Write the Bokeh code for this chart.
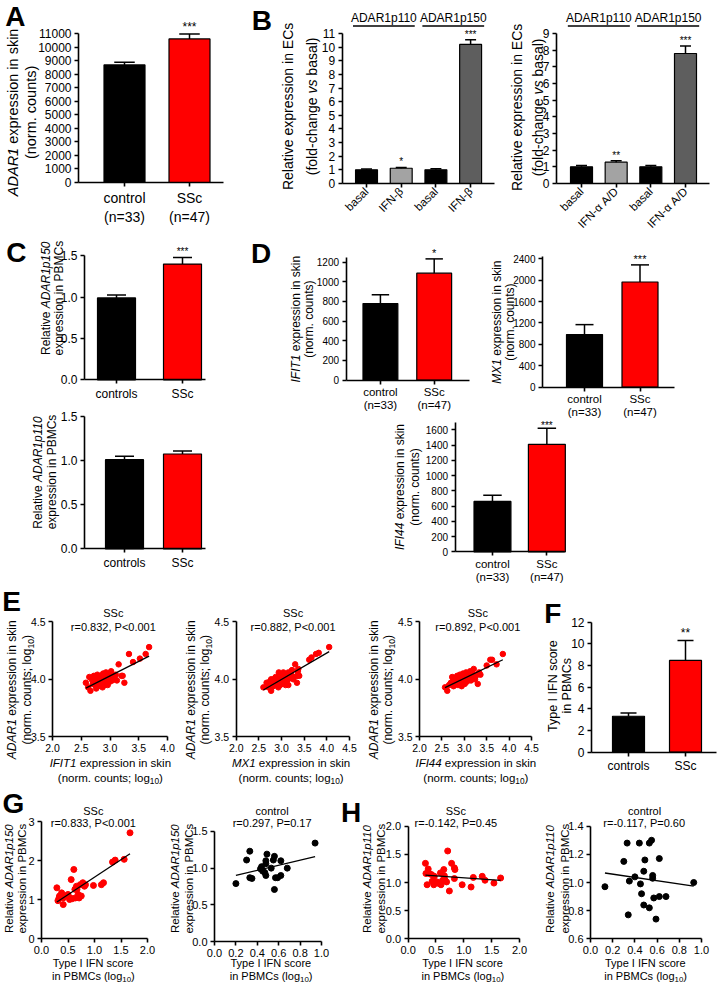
import math
import numpy as np
from bokeh.plotting import figure
from bokeh.models import Range1d, FixedTicker, PrintfTickFormatter, Label
from bokeh.layouts import row, column
from bokeh.embed import file_html
from bokeh.resources import INLINE

# ---------------- data ----------------
a_groups = ["control\n(n=33)", "SSc\n(n=47)"]
a_mean = [8680, 10600]
a_sem = [190, 370]
a_sig = ["", "***"]
a_colors = ["#000000", "#ff0000"]

b_headers = ["ADAR1p110", "ADAR1p150"]
b_colors = ["#000000", "#a3a3a3", "#000000", "#5e5e5e"]
b1_groups = ["basal", "IFN-β", "basal", "IFN-β"]
b1_mean = [1.0, 1.12, 1.0, 10.2]
b1_sem = [0.06, 0.06, 0.08, 0.35]
b1_sig = ["", "*", "", "***"]
b2_groups = ["basal", "IFN-α A/D", "basal", "IFN-α A/D"]
b2_mean = [1.0, 1.28, 1.0, 7.8]
b2_sem = [0.08, 0.09, 0.08, 0.45]
b2_sig = ["", "**", "", "***"]

c_groups = ["controls", "SSc"]
c_colors = ["#000000", "#ff0000"]
c150_mean = [0.99, 1.40]
c150_sem = [0.035, 0.08]
c150_sig = ["", "***"]
c110_mean = [1.01, 1.075]
c110_sem = [0.04, 0.035]
c110_sig = ["", ""]

d_groups = ["control\n(n=33)", "SSc\n(n=47)"]
ifit1_mean = [778, 1088]
ifit1_sem = [90, 145]
ifit1_sig = ["", "*"]
mx1_mean = [983, 1965]
mx1_sem = [185, 320]
mx1_sig = ["", "***"]
ifi44_mean = [662, 1412]
ifi44_sem = [80, 210]
ifi44_sig = ["", "***"]

f_groups = ["controls", "SSc"]
f_mean = [3.32, 8.47]
f_sem = [0.30, 1.85]
f_sig = ["", "**"]

e1_x = [2.58, 2.62, 2.66, 2.64, 2.68, 2.70, 2.72, 2.74, 2.75, 2.77, 2.78, 2.80, 2.80, 2.82, 2.83, 2.85,
        2.86, 2.87, 2.88, 2.90, 2.90, 2.91, 2.92, 2.93, 2.94, 2.95, 2.96, 2.97, 2.98, 3.00, 3.00, 3.02,
        3.04, 3.05, 3.08, 3.10, 3.12, 3.15, 3.20, 3.22, 3.25, 3.33, 3.40, 3.52, 3.62, 3.68, 2.76]
e1_y = [3.97, 3.93, 3.90, 4.02, 4.00, 3.96, 4.03, 3.95, 4.00, 3.98, 4.04, 3.94, 4.01, 3.97, 4.03, 3.96,
        4.00, 3.93, 4.05, 3.98, 4.02, 3.95, 4.00, 4.06, 3.97, 4.03, 3.95, 4.00, 4.05, 3.98, 4.02, 4.07,
        3.99, 4.03, 4.01, 4.04, 3.99, 4.13, 4.03, 4.03, 3.97, 4.22, 4.15, 4.18, 4.22, 4.28, 3.92]
e2_x = [2.67, 2.71, 2.74, 2.77, 2.80, 2.82, 2.84, 2.86, 2.89, 2.91, 2.93, 2.94, 2.97, 2.99, 3.00, 3.02,
        3.04, 3.06, 3.08, 3.09, 3.11, 3.14, 3.15, 3.19, 3.23, 3.26, 3.30, 3.34, 3.36, 3.37, 3.39, 3.34,
        3.61, 3.66, 3.76, 3.82, 4.05, 2.77, 2.93, 2.87, 3.15, 3.04, 3.23, 3.11, 2.60, 2.97, 2.82]
e2_y = [3.97, 3.93, 3.98, 4.00, 3.95, 4.00, 3.96, 4.00, 3.98, 4.01, 3.97, 4.06, 4.01, 3.98, 3.96, 4.04,
        4.00, 4.02, 3.98, 3.95, 4.04, 4.00, 4.06, 4.01, 4.03, 4.00, 4.13, 4.03, 4.07, 4.09, 4.03, 3.97,
        4.17, 4.19, 4.22, 4.23, 4.28, 3.90, 3.93, 4.02, 3.95, 4.06, 4.08, 3.98, 3.93, 3.95, 3.94]
e3_x = [2.57, 2.62, 2.66, 2.70, 2.73, 2.76, 2.78, 2.80, 2.82, 2.84, 2.86, 2.88, 2.89, 2.90, 2.92, 2.93,
        2.95, 2.96, 2.97, 2.99, 3.00, 3.01, 3.03, 3.04, 3.06, 3.08, 3.09, 3.11, 3.13, 3.15, 3.17, 3.19,
        3.21, 3.24, 3.26, 3.30, 3.33, 3.36, 3.50, 3.58, 3.62, 3.72, 3.86, 2.75, 2.94, 3.05, 3.14]
e3_y = [3.93, 3.90, 3.95, 3.97, 4.02, 3.94, 3.99, 3.96, 4.00, 4.03, 3.95, 3.98, 4.01, 4.04, 3.97, 4.00,
        3.96, 4.02, 4.05, 3.99, 4.03, 3.96, 4.01, 4.06, 3.98, 4.02, 4.04, 4.00, 4.07, 3.99, 4.03, 4.05,
        4.09, 4.00, 4.03, 3.96, 4.06, 4.04, 4.12, 4.17, 4.17, 4.13, 4.22, 4.01, 3.94, 3.99, 4.01]

g1_x = [0.29, 0.31, 0.34, 0.38, 0.41, 0.33, 0.44, 0.41, 0.50, 0.54, 0.53, 0.56, 0.61, 0.63, 0.64, 0.66,
        0.69, 0.71, 0.73, 0.75, 0.78, 0.81, 0.83, 0.98, 1.13, 1.17, 1.34, 1.39, 1.56, 1.67, 0.47, 0.58, 0.67]
g1_y = [1.30, 0.97, 1.09, 1.17, 1.04, 1.04, 1.09, 0.87, 1.13, 1.04, 1.00, 1.51, 1.77, 1.26, 1.04, 1.34,
        1.13, 1.04, 1.38, 1.09, 1.43, 1.34, 1.38, 1.36, 1.38, 1.43, 1.96, 2.01, 2.03, 2.71, 1.09, 1.02, 1.26]
g2_x = [0.20, 0.30, 0.33, 0.33, 0.35, 0.44, 0.48, 0.49, 0.48, 0.45, 0.47, 0.48, 0.53, 0.55, 0.56, 0.57,
        0.56, 0.59, 0.62, 0.62, 0.68, 0.94, 0.43]
g2_y = [0.79, 1.11, 1.23, 0.87, 0.86, 1.02, 1.06, 1.19, 1.10, 0.96, 0.94, 0.90, 1.00, 1.11, 1.16, 0.87,
        0.71, 0.87, 1.10, 0.90, 1.00, 1.34, 0.99]
h1_x = [0.31, 0.32, 0.34, 0.36, 0.38, 0.42, 0.43, 0.46, 0.47, 0.52, 0.56, 0.58, 0.59, 0.62, 0.64, 0.65,
        0.66, 0.69, 0.71, 0.74, 0.78, 0.83, 0.84, 0.83, 0.97, 1.13, 1.17, 1.33, 1.38, 1.54, 1.66]
h1_y = [1.34, 1.16, 0.96, 1.24, 1.16, 1.14, 1.02, 0.96, 1.11, 1.01, 0.98, 1.17, 0.96, 1.04, 1.23, 1.12,
        1.05, 1.01, 1.56, 0.85, 1.34, 1.26, 1.23, 1.07, 0.96, 0.92, 1.09, 1.11, 1.04, 0.99, 1.08]
h2_x = [0.13, 0.33, 0.30, 0.35, 0.34, 0.40, 0.44, 0.45, 0.46, 0.48, 0.48, 0.49, 0.53, 0.53, 0.55, 0.56,
        0.56, 0.57, 0.59, 0.62, 0.62, 0.68, 0.93]
h2_y = [0.97, 1.28, 1.15, 1.01, 0.77, 1.04, 1.28, 0.99, 0.92, 1.08, 0.84, 1.16, 0.82, 1.28, 1.30, 1.05,
        1.03, 0.89, 0.74, 0.90, 1.17, 0.90, 1.00]

# ---------------- helpers ----------------
FONT = "Liberation Sans"
SX = 717 / 718
SY = 984 / 985


def LX(v):
    return int(round(v * SX))


def LY(v):
    return int(round(v * SY))


AW = {' ': 278, '(': 333, ')': 333, ',': 278, '-': 333, '.': 278, ';': 278, '<': 584, '=': 584,
      '/': 278, '*': 389,
      'A': 667, 'B': 667, 'C': 722, 'D': 722, 'E': 667, 'F': 611, 'G': 778, 'H': 722, 'I': 278,
      'M': 833, 'N': 722, 'P': 667, 'R': 722, 'S': 667, 'T': 611, 'X': 667,
      'a': 556, 'b': 556, 'c': 500, 'd': 556, 'e': 556, 'f': 278, 'g': 556, 'h': 556, 'i': 222,
      'k': 500, 'l': 222, 'm': 833, 'n': 556, 'o': 556, 'p': 556, 'r': 333, 's': 500, 't': 278,
      'u': 556, 'v': 500, 'x': 500, 'y': 500}


def tw(s, size):
    return sum(AW.get(c, 556) for c in s) * size / 1000.0


def lin(px, cal):
    a_px, a_val, b_px, b_val = cal
    return a_val + (px - a_px) * (b_val - a_val) / (b_px - a_px)


def style_axis(ax, ticks, size, fmt=None, overrides=None, standoff=3, bounds=None, orient=None,
               line_height=1.2):
    ax.ticker = FixedTicker(ticks=ticks)
    if fmt:
        ax.formatter = PrintfTickFormatter(format=fmt)
    if overrides:
        ax.major_label_overrides = overrides
    ax.axis_line_width = 1.6
    ax.axis_line_color = "black"
    ax.major_tick_line_width = 1.6
    ax.major_tick_line_color = "black"
    ax.major_tick_in = 0
    ax.major_tick_out = 4
    ax.minor_tick_line_color = None
    ax.major_label_text_font = FONT
    ax.major_label_text_font_size = f"{size}px"
    ax.major_label_text_color = "black"
    ax.major_label_text_line_height = line_height
    ax.major_label_standoff = standoff
    if bounds is not None:
        ax.bounds = bounds
    if orient is not None:
        ax.major_label_orientation = orient


class Pan:
    """A figure whose frame covers its whole area; the axes are drawn at fixed
    data locations so that all texts (annotations) stay inside the frame."""

    def __init__(self, rect, frame, xcal, ycal):
        self.rect, self.frame, self.xcal, self.ycal = rect, frame, xcal, ycal
        fx0, fy0, fx1, fy1 = rect
        x0, y0, x1, y1 = frame
        p = figure(width=LX(fx1) - LX(fx0), height=LY(fy1) - LY(fy0),
                   x_range=Range1d(lin(fx0, xcal), lin(fx1, xcal)),
                   y_range=Range1d(lin(fy1, ycal), lin(fy0, ycal)),
                   min_border=0, min_border_left=0, min_border_right=0,
                   min_border_top=0, min_border_bottom=0,
                   output_backend="svg", toolbar_location=None, title=None, tools="")
        p.xgrid.visible = False
        p.ygrid.visible = False
        p.outline_line_color = None
        p.background_fill_color = "white"
        p.border_fill_color = "white"
        p.xaxis[0].fixed_location = lin(y1, ycal)
        p.xaxis[0].bounds = (lin(x0, xcal), lin(x1, xcal))
        p.yaxis[0].fixed_location = lin(x0, xcal)
        p.yaxis[0].bounds = (lin(y1, ycal), lin(y0, ycal))
        self.p = p
        self.xppu = abs((xcal[2] - xcal[0]) / (xcal[3] - xcal[1]))

    def yv(self, py):
        return lin(py, self.ycal)

    def txt(self, cx, cy, pieces, size, vertical=False):
        sizes = [size * 0.72 if st == "sub" else size for t, st in pieces]
        widths = [tw(t, s) for (t, st), s in zip(pieces, sizes)]
        total = sum(widths)
        X = cx * SX - LX(self.rect[0])
        Y = LY(self.rect[3]) - cy * SY
        off = -total / 2
        for (t, st), s, w in zip(pieces, sizes, widths):
            style = {"n": "normal", "i": "italic", "b": "bold", "sub": "normal"}[st]
            lead = tw(t[:len(t) - len(t.lstrip())], s)
            sh = 0.32 * size if st == "sub" else 0
            if vertical:
                kw = dict(x=X + sh, y=Y + off + lead, angle=math.pi / 2)
            else:
                kw = dict(x=X + off + lead, y=Y - sh, angle=0)
            self.p.add_layout(Label(x_units="screen", y_units="screen", text=t.strip(),
                                    text_align="left", text_baseline="middle", text_font=FONT,
                                    text_font_size=f"{s:.1f}px", text_font_style=style,
                                    text_color="black", **kw))
            off += w

    def letter(self, cx, cy, ch):
        self.txt(cx, cy, [(ch, "b")], 28)

    def bars(self, groups, mean, sem, colors, wpx, sig, star_size, tick_size, ytick, ysize,
             yfmt, ybounds, orient=None, standoff=3, line_height=1.2, star_off=0):
        p = self.p
        xs = list(range(1, len(mean) + 1))
        w = wpx / self.xppu
        p.vbar(x=xs, top=mean, bottom=0, width=w, fill_color=colors, line_color="black", line_width=1.2)
        tops = [m + e for m, e in zip(mean, sem)]
        p.segment(x0=xs, y0=mean, x1=xs, y1=tops, line_color="black", line_width=1.5)
        cw = w * 0.5
        p.segment(x0=[x - cw / 2 for x in xs], y0=tops, x1=[x + cw / 2 for x in xs], y1=tops,
                  line_color="black", line_width=1.5)
        for x, t, s in zip(xs, tops, sig):
            if s:
                p.add_layout(Label(x=x, y=t, text=s, text_align="center", text_baseline="bottom",
                                   text_font=FONT, text_font_size=f"{star_size}px", text_color="black",
                                   y_offset=star_off))
        style_axis(p.xaxis[0], xs, tick_size, overrides={i + 1: g for i, g in enumerate(groups)},
                   orient=orient, standoff=standoff, line_height=line_height)
        style_axis(p.yaxis[0], ytick, ysize, fmt=yfmt, bounds=ybounds)

    def scat(self, xs, ys, color, size, xt, yt, tsize, xfmt, yfmt, ybounds):
        p = self.p
        p.scatter(xs, ys, size=size, fill_color=color, line_color=color)
        k, b = np.polyfit(xs, ys, 1)
        x0, x1 = min(xs), max(xs)
        p.line([x0, x1], [k * x0 + b, k * x1 + b], line_color="black", line_width=1.3)
        style_axis(p.xaxis[0], xt, tsize, fmt=xfmt)
        style_axis(p.yaxis[0], yt, tsize, fmt=yfmt, bounds=ybounds)


ROW1 = 236      # boundaries between the panel bands (reference pixels)
DMID = 420.5
ROW2 = 586
ROW3 = 788

# ---------------- Panel A ----------------
A = Pan((0, 0, 240, ROW1), (78, 15, 223, 182), (124, 1, 189, 2), (182, 0, 33, 11000))
A.bars(a_groups, a_mean, a_sem, a_colors, 41, a_sig, 12, 14, list(range(0, 11001, 1000)), 12, "%d", (0, 11000))
A.txt(13, 112, [("ADAR1", "i"), (" expression in skin", "n")], 14.5, vertical=True)
A.txt(31, 112, [("(norm. counts)", "n")], 14.5, vertical=True)
A.letter(14, 16, "A")

# ---------------- Panel B ----------------
BL = Pan((240, 0, 500, ROW1), (342, 5, 495, 183), (366.5, 1, 471, 4), (183, 0, 33, 11))
BL.bars(b1_groups, b1_mean, b1_sem, b_colors, 22, b1_sig, 10, 11.5, list(range(0, 12)), 12, "%d", (0, 11),
        orient=math.pi / 4, standoff=2)
BL.txt(288, 106, [("Relative expression in ECs", "n")], 14, vertical=True)
BL.txt(312, 106, [("(fold-change ", "n"), ("vs", "i"), (" basal)", "n")], 14, vertical=True)
BL.letter(261, 20, "B")

BR = Pan((500, 0, 718, ROW1), (557, 5, 710, 183), (582, 1, 686, 4), (183, 0, 33, 9))
BR.bars(b2_groups, b2_mean, b2_sem, b_colors, 22, b2_sig, 10, 11.5, list(range(0, 10)), 12, "%d", (0, 9),
        orient=math.pi / 4, standoff=2)
BR.txt(517, 107, [("Relative expression in ECs", "n")], 14, vertical=True)
BR.txt(538, 107, [("(fold-change ", "n"), ("vs", "i"), (" basal)", "n")], 14, vertical=True)

for P in (BL, BR):
    for i, h in enumerate(b_headers):
        cx = 1.5 + 2 * i
        P.p.add_layout(Label(x=cx, y=P.yv(17), text=h, text_align="center", text_baseline="middle",
                             text_font=FONT, text_font_size="12px", text_color="black"))
        hw = 62 / P.xppu
        P.p.segment(x0=[cx - hw / 2], x1=[cx + hw / 2], y0=[P.yv(25.5)], y1=[P.yv(25.5)],
                    line_color="black", line_width=1.5)

# ---------------- Panel C ----------------
Ct = Pan((0, ROW1, 240, 400), (84, 245, 205, 379.3), (116, 1, 182, 2), (379.3, 0, 255.3, 1.5))
Ct.bars(c_groups, c150_mean, c150_sem, c_colors, 38, c150_sig, 10, 12, [0, 0.5, 1.0, 1.5], 12, "%.1f", (0, 1.5))
Ct.txt(46, 298, [("Relative ", "n"), ("ADAR1p150", "i")], 12, vertical=True)
Ct.txt(59, 298, [("expression in PBMCs", "n")], 12, vertical=True)
Ct.letter(16, 252, "C")

Cb = Pan((0, 400, 240, ROW2), (84, 405, 205, 549.3), (124, 1, 182, 2), (549.3, 0, 416, 1.5))
Cb.bars(c_groups, c110_mean, c110_sem, c_colors, 38, c110_sig, 10, 12, [0, 0.5, 1.0, 1.5], 12, "%.1f", (0, 1.5))
Cb.txt(38, 472, [("Relative ", "n"), ("ADAR1p110", "i")], 12, vertical=True)
Cb.txt(52, 472, [("expression in PBMCs", "n")], 12, vertical=True)

# ---------------- Panel D ----------------
D1 = Pan((240, ROW1, 482, DMID), (346, 244, 470, 380), (380.5, 1, 434.5, 2), (380, 0, 261.7, 1200))
D1.bars(d_groups, ifit1_mean, ifit1_sem, c_colors, 35, ifit1_sig, 11, 11.5, list(range(0, 1201, 200)), 10,
        "%d", (0, 1250), standoff=2, line_height=1.1)
D1.txt(296, 319, [("IFIT1", "i"), (" expression in skin", "n")], 12, vertical=True)
D1.txt(309, 319, [("(norm. counts)", "n")], 12, vertical=True)
D1.letter(261, 253, "D")

D2 = Pan((482, ROW1, 718, DMID), (543, 244, 675, 387), (585, 1, 640.5, 2), (387, 0, 258.3, 2400))
D2.bars(d_groups, mx1_mean, mx1_sem, c_colors, 36, mx1_sig, 11, 11.5, list(range(0, 2401, 400)), 10,
        "%d", (0, 2450), standoff=2, line_height=1.1)
D2.txt(497, 322, [("MX1", "i"), (" expression in skin", "n")], 12, vertical=True)
D2.txt(510, 322, [("(norm. counts)", "n")], 12, vertical=True)

D3 = Pan((240, DMID, 718, ROW2), (455, 418, 565, 552.3), (492.5, 1, 547, 2), (552.3, 0, 430, 1600))
D3.bars(d_groups, ifi44_mean, ifi44_sem, c_colors, 37, ifi44_sig, 10, 11.5, list(range(0, 1601, 200)), 10,
        "%d", (0, 1700), standoff=2, line_height=1.1, star_off=-3)
D3.txt(400, 487, [("IFI44", "i"), (" expression in skin", "n")], 12, vertical=True)
D3.txt(415, 487, [("(norm. counts)", "n")], 12, vertical=True)

# ---------------- Panel E ----------------
e_sets = [
    ((0, ROW2, 180, ROW3), (52, 600, 167, 737.3), (52, 2.0, 167, 4.0), e1_x, e1_y, "IFIT1", "r=0.832, P<0.001",
     [2.0, 2.5, 3.0, 3.5, 4.0], 113, 110, (12, 27)),
    ((180, ROW2, 362, ROW3), (236, 600, 350, 737.3), (236, 2.0, 350, 4.5), e2_x, e2_y, "MX1", "r=0.882, P<0.001",
     [2.0, 2.5, 3.0, 3.5, 4.0, 4.5], 293, 291, (191, 205)),
    ((362, ROW2, 540, ROW3), (420, 600, 532, 737.3), (420, 2.0, 532, 4.5), e3_x, e3_y, "IFI44", "r=0.892, P<0.001",
     [2.0, 2.5, 3.0, 3.5, 4.0, 4.5], 478, 476, (374, 388)),
]
E = []
for rect, frame, xcal, ex, ey, gene, rtxt, xt, tcx, lcx, ylx in e_sets:
    P = Pan(rect, frame, xcal, (737.3, 3.5, 622.3, 4.5))
    P.scat(ex, ey, "#ff0000", 5.5, xt, [3.5, 4.0, 4.5], 10.5, "%.1f", "%.1f", (3.5, 4.5))
    P.txt(tcx, 613, [("SSc", "n")], 11)
    P.txt(tcx, 627, [(rtxt, "n")], 11)
    P.txt(lcx, 763, [(gene, "i"), (" expression in skin", "n")], 11.5)
    P.txt(lcx, 778, [("(norm. counts; log", "n"), ("10", "sub"), (")", "n")], 11.5)
    P.txt(ylx[0], 690, [("ADAR1", "i"), (" expression in skin", "n")], 12, vertical=True)
    P.txt(ylx[1], 690, [("(norm. counts; log", "n"), ("10", "sub"), (")", "n")], 12, vertical=True)
    E.append(P)
E[0].letter(11, 602, "E")

# ---------------- Panel F ----------------
F = Pan((540, ROW2, 718, ROW3), (592, 615, 717, 752.7), (629, 1, 686, 2), (752.7, 0, 622.7, 12))
F.bars(f_groups, f_mean, f_sem, c_colors, 32, f_sig, 12, 12, list(range(0, 13, 2)), 12, "%d", (0, 12))
F.txt(553, 686, [("Type I IFN score", "n")], 12.5, vertical=True)
F.txt(567, 686, [("in PBMCs", "n")], 12.5, vertical=True)
F.letter(553, 614, "F")

# ---------------- Panels G / H ----------------
gh_sets = [
    ((0, ROW3, 165, 985), (41, 815, 147, 939), (41, 0, 147, 2), (939, 0, 822, 3), g1_x, g1_y, "#ff0000",
     "SSc", "r=0.833, P<0.001", "ADAR1p150", [0, 0.5, 1.0, 1.5, 2.0], [0, 1, 2, 3], "%d", (0, 3), 93, 93,
     (8.5, 22)),
    ((165, ROW3, 340, 985), (214, 815, 321, 942.3), (214, 0, 321, 1), (942.3, 0, 831.8, 1.5), g2_x, g2_y,
     "#000000", "control", "r=0.297, P=0.17", "ADAR1p150", [0, 0.2, 0.4, 0.6, 0.8, 1.0],
     [0, 0.5, 1.0, 1.5], "%.1f", (0, 1.5), 272, 271, (175, 188.5)),
    ((340, ROW3, 530, 985), (408, 815, 520, 939.3), (408, 0, 520, 2), (939.3, 0, 826.7, 2), h1_x, h1_y,
     "#ff0000", "SSc", "r=-0.142, P=0.45", "ADAR1p110", [0, 0.5, 1.0, 1.5, 2.0], [0, 0.5, 1.0, 1.5, 2.0],
     "%.1f", (0, 2), 456, 463, (367, 381.5)),
    ((530, ROW3, 718, 985), (591, 815, 702, 939.3), (591, 0, 702, 1), (939.3, 0.6, 826.7, 1.4), h2_x, h2_y,
     "#000000", "control", "r=-0.117, P=0.60", "ADAR1p110", [0, 0.2, 0.4, 0.6, 0.8, 1.0],
     [0.6, 0.8, 1.0, 1.2, 1.4], "%.1f", (0.6, 1.4), 645, 646, (550, 565)),
]
GH = []
for (rect, frame, xcal, ycal, gx, gy, col, grp, rtxt, iso, xt, yt, yfmt, yb, tcx, lcx, ylx) in gh_sets:
    P = Pan(rect, frame, xcal, ycal)
    P.scat(gx, gy, col, 6, xt, yt, 11, "%.1f", yfmt, yb)
    P.txt(tcx, 811.7, [(grp, "n")], 11)
    P.txt(tcx, 823.5, [(rtxt, "n")], 11)
    P.txt(lcx, 963, [("Type I IFN score", "n")], 11)
    P.txt(lcx, 976.5, [("in PBMCs (log", "n"), ("10", "sub"), (")", "n")], 11)
    P.txt(ylx[0], 879, [("Relative ", "n"), (iso, "i")], 11.5, vertical=True)
    P.txt(ylx[1], 879, [("expression in PBMCs", "n")], 11.5, vertical=True)
    GH.append(P)
GH[0].letter(13, 804, "G")
GH[2].letter(351, 813, "H")

layout = column(
    row(A.p, BL.p, BR.p),
    row(column(Ct.p, Cb.p), column(row(D1.p, D2.p), D3.p)),
    row(E[0].p, E[1].p, E[2].p, F.p),
    row(GH[0].p, GH[1].p, GH[2].p, GH[3].p),
)

open("out.html", "w").write(file_html(layout, INLINE, "ADAR1 figure"))
